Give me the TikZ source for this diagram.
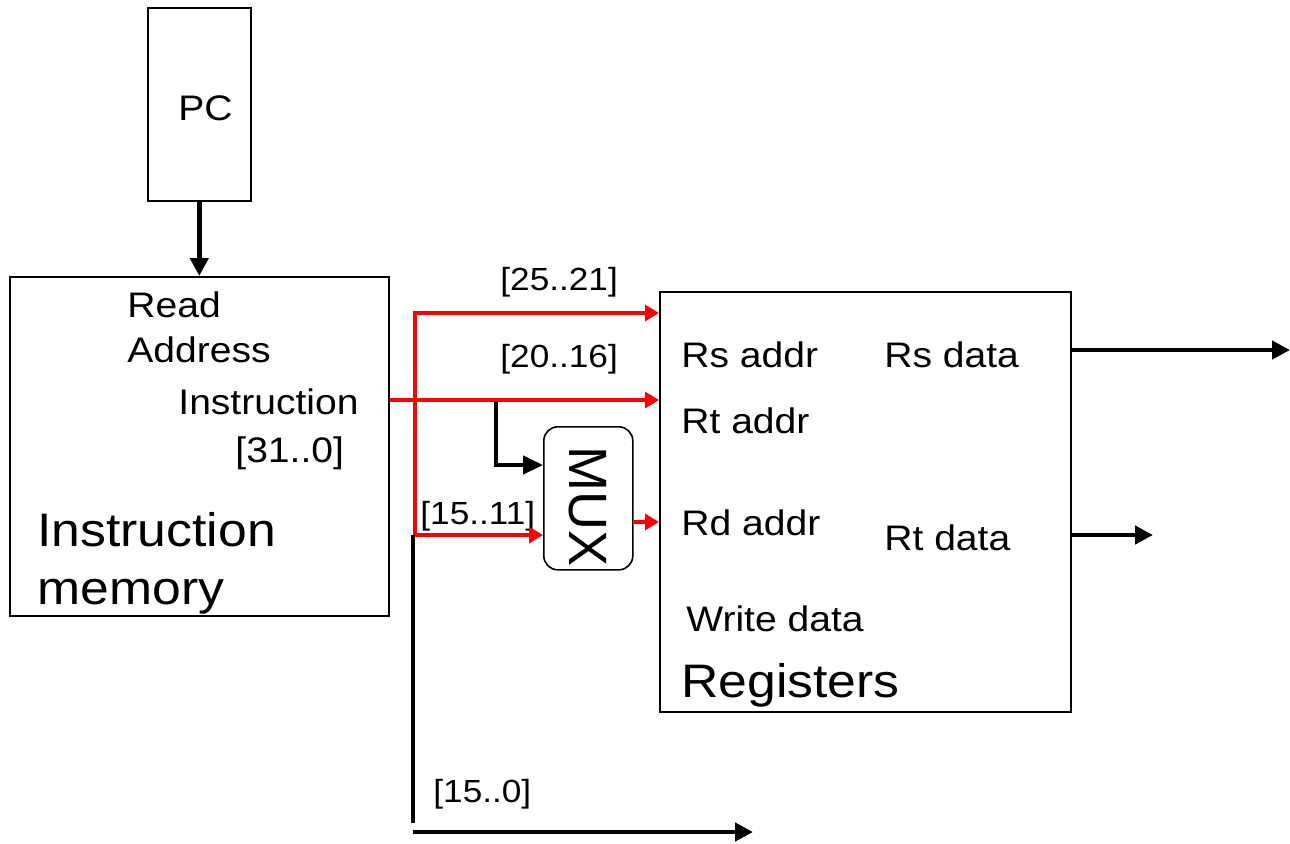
\documentclass[tikz,border=0pt]{standalone}
\usepackage{fontspec}
\setmainfont[FakeStretch=1.1]{Liberation Sans}
\newfontfamily\muxfont{Liberation Sans}
\usetikzlibrary{arrows.meta}

\begin{document}
\begin{tikzpicture}[x=0.5pt,y=-0.5pt]
  \tikzset{block/.style={draw,line width=0.8pt,inner sep=0pt,anchor=north west},
    lbl/.style={anchor=base west,inner sep=0pt,font=\fontsize{17.75}{20}\selectfont},
    bitlbl/.style={anchor=base west,inner sep=0pt,font=\fontsize{16}{19}\selectfont},
    biglbl/.style={anchor=base west,inner sep=0pt,font=\fontsize{23.5}{27}\selectfont},
    wire/.style={line width=2.2pt},
    bus/.style={wire,-{Triangle[length=9pt,width=9pt]}},
    redbus/.style={red,line width=2pt,-{Triangle[length=7pt,width=8pt]}}}
  \useasboundingbox (0,0) rectangle (1290,843);
  % blocks
  \node[block,minimum width=51.5pt,minimum height=96.5pt] (PC) at (147,7) {};
  \node[block,minimum width=189.5pt,minimum height=169.5pt] (IM) at (9,276) {};
  \node[block,minimum width=205.5pt,minimum height=210pt] (Reg) at (659,291) {};
  \node[block,rounded corners=7pt,minimum width=44.5pt,minimum height=71.5pt] (MUX) at (543,426) {};
  \node[rotate=-90,font=\muxfont\fontsize{27}{30}\selectfont] (MUX-txt) at ([yshift=-4pt]MUX.center) {MUX};
  % texts
  \node[lbl] (PC-txt) at (178,120) {PC};
  \node[lbl] (IM-read) at (127,317) {Read};
  \node[lbl] (IM-addr) at (127,362) {Address};
  \node[lbl] (IM-instr) at (178,414) {Instruction};
  \node[lbl] (IM-bits) at (235,462) {[31..0]};
  \node[biglbl] (IM-name-1) at (37,546) {Instruction};
  \node[biglbl] (IM-name-2) at (37,604) {memory};
  \node[lbl] (Reg-rs) at (681,367) {Rs addr};
  \node[lbl] (Reg-rt) at (681,433) {Rt addr};
  \node[lbl] (Reg-rd) at (681,535) {Rd addr};
  \node[lbl] (Reg-wd) at (686,631) {Write data};
  \node[lbl] (Reg-rsd) at (884,367) {Rs data};
  \node[lbl] (Reg-rtd) at (884,550) {Rt data};
  \node[biglbl] (Reg-name) at (681,697) {Registers};
  \node[bitlbl] (bits-rs) at (500,290) {[25..21]};
  \node[bitlbl] (bits-rt) at (500,367) {[20..16]};
  \node[bitlbl] (bits-rd) at (420,524) {[15..11]};
  \node[bitlbl] (bits-imm) at (433,802) {[15..0]};
  % wires
  \coordinate (rs-in) at (659,313);
  \coordinate (rt-in) at (659,400);
  \coordinate (rd-in) at (659,522);
  \coordinate (tap-top) at (415,313);
  \coordinate (tap-bot) at (415,535);
  \coordinate (tap-rt) at (496,400);
  \coordinate (mux-a) at (543,465);
  \coordinate (imm-top) at (413,535);
  \coordinate (imm-end) at (413,823);
  \coordinate (imm-start) at (413,832);
  \coordinate (imm-out) at (753,832);
  \draw[bus] (PC.south) -- (PC.south |- IM.north);
  \draw[wire] (imm-top) -- (imm-end);
  \draw[bus] (imm-start) -- (imm-out);
  \draw[bus,-{Triangle[length=10pt,width=9pt]}] (tap-rt) |- (mux-a);
  \draw[redbus] (IM.east |- rt-in) -- (rt-in);
  \draw[redbus] (tap-bot) -- (tap-top) -- (rs-in);
  \draw[redbus] (tap-bot) -- (MUX.west |- tap-bot);
  \draw[redbus] (MUX.east |- rd-in) -- (rd-in);
  \draw[bus] (Reg.east |- 0,350) -- (1290,350);
  \draw[bus] (Reg.east |- 0,535) -- (1153,535);
\end{tikzpicture}
\end{document}
